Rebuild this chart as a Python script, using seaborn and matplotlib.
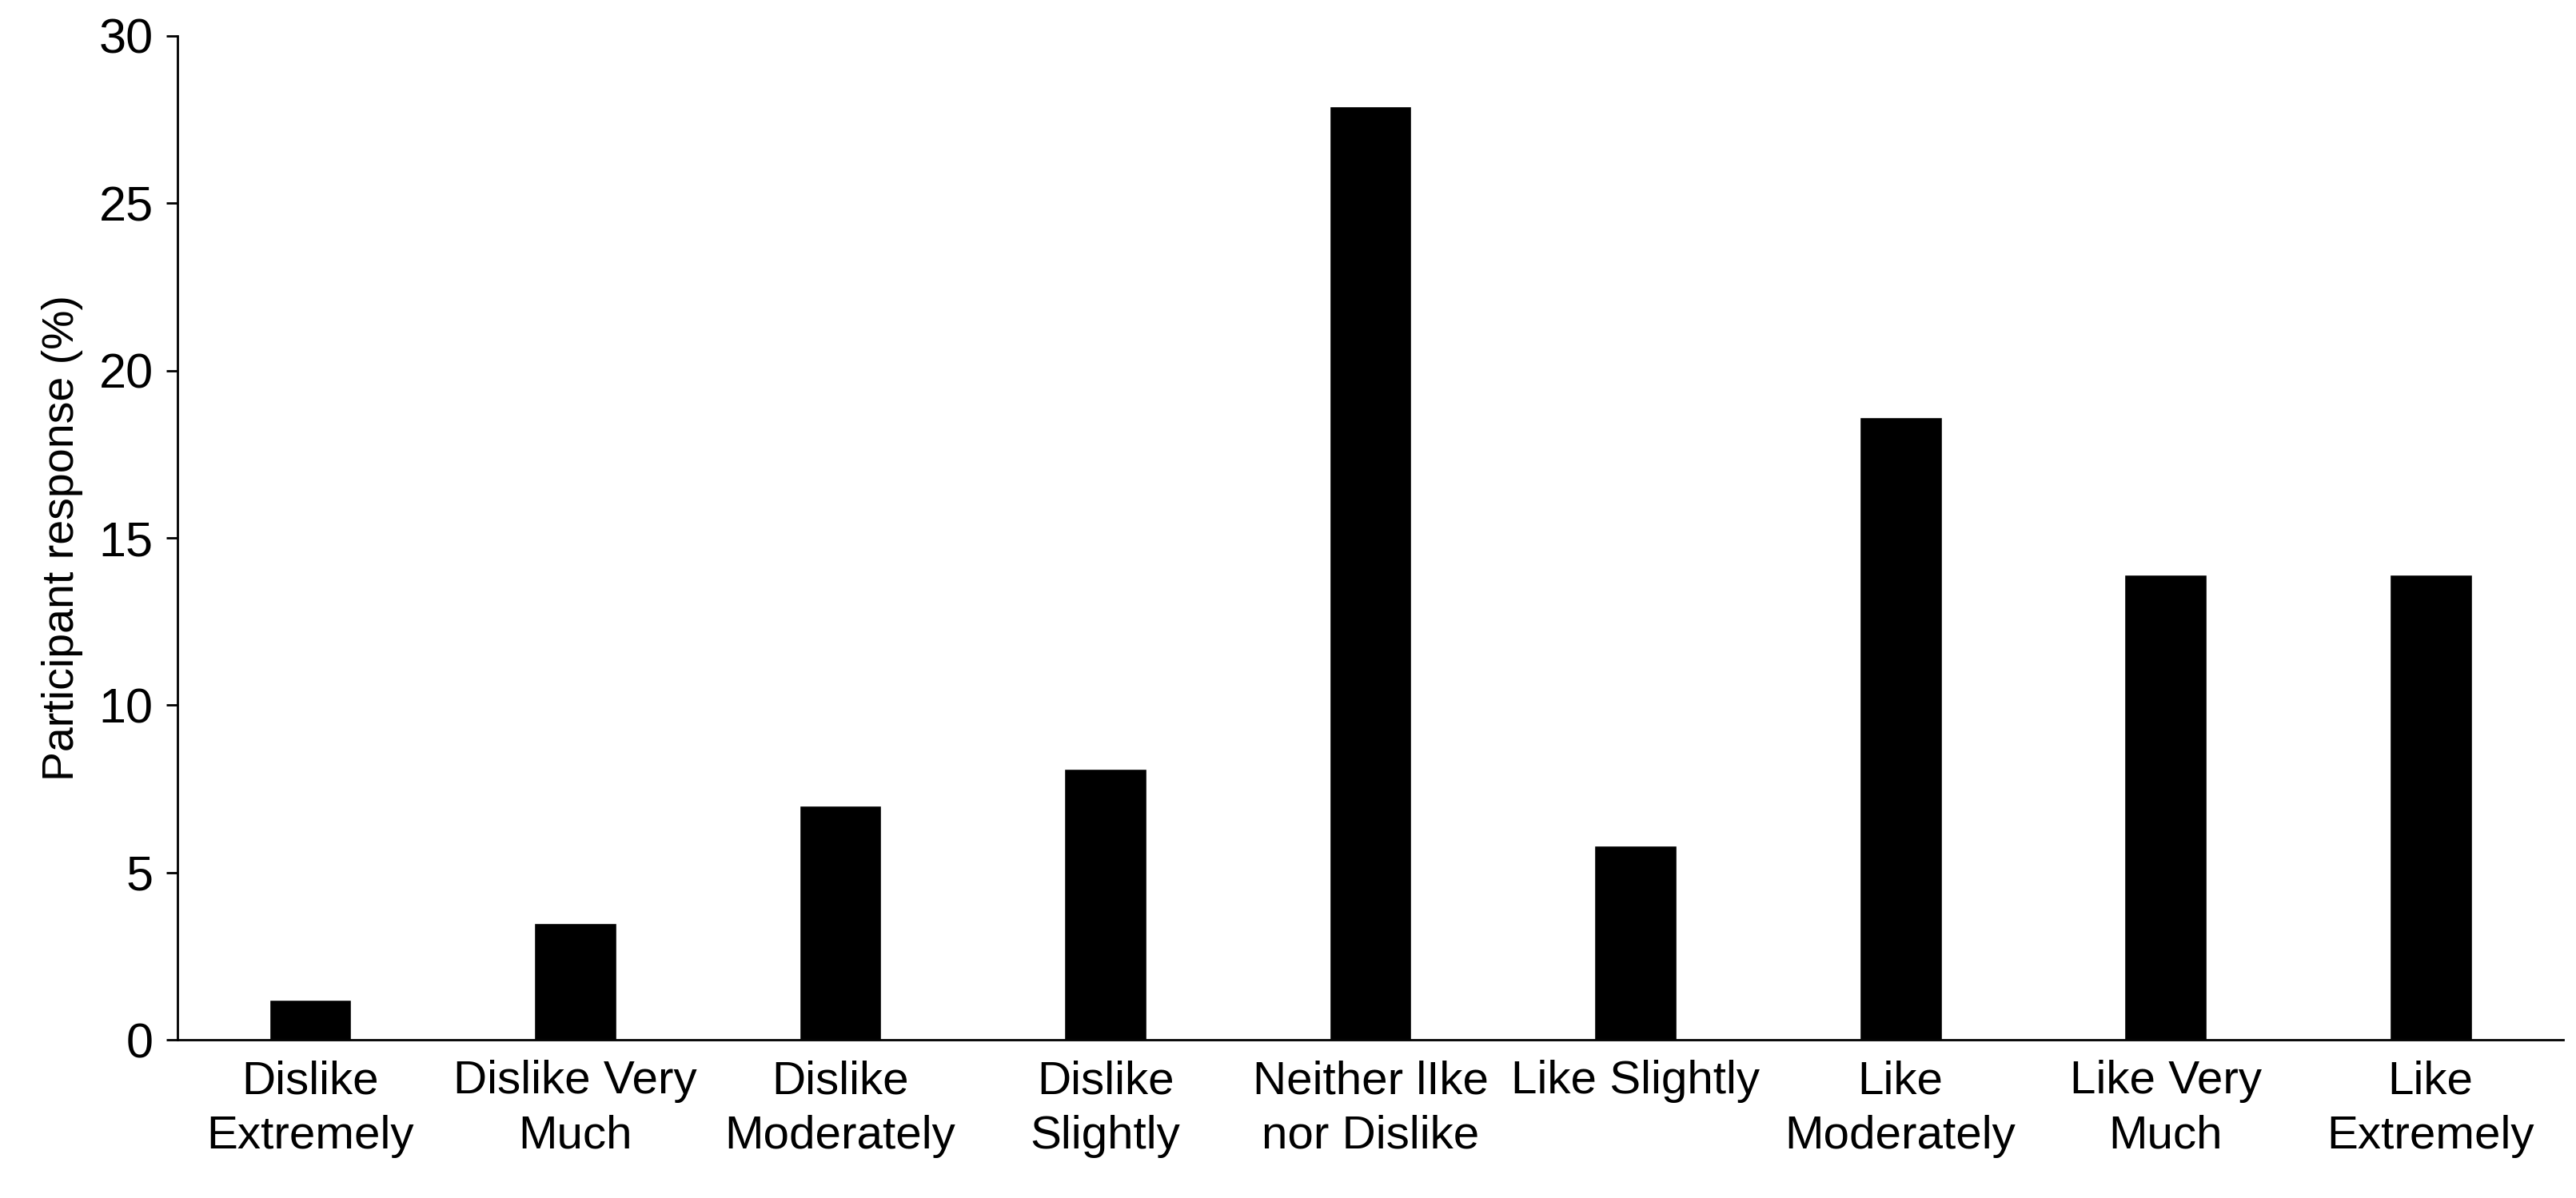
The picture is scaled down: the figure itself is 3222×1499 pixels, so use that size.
import matplotlib
matplotlib.use("Agg")
import matplotlib.pyplot as plt
import seaborn as sns
import pandas as pd

categories = ["Dislike\nExtremely", "Dislike Very\nMuch", "Dislike\nModerately", "Dislike\nSlightly",
              "Neither lIke\nnor Dislike", "Like Slightly", "Like\nModerately", "Like Very\nMuch", "Like\nExtremely"]
values = [1.2, 3.5, 7.0, 8.1, 27.9, 5.8, 18.6, 13.9, 13.9]

sns.set_style("ticks")
plt.rcParams['font.family'] = ['Liberation Sans', 'DejaVu Sans']
plt.rcParams['text.color'] = 'black'
plt.rcParams['xtick.color'] = 'black'
plt.rcParams['ytick.color'] = 'black'
plt.rcParams['axes.labelcolor'] = 'black'
plt.rcParams['axes.edgecolor'] = 'black'

df = pd.DataFrame({"cat": categories, "val": values})
fig = plt.figure(figsize=(32.22, 14.99), dpi=100)
ax = fig.add_axes([0.069, 0.132, 0.926, 0.838])
sns.barplot(data=df, x="cat", y="val", color="black", width=0.31, ax=ax, saturation=1)
ax.set_ylim(0, 30)
ax.set_yticks(range(0, 31, 5))
ax.set_xlim(-0.5, 8.5)
ax.set_xlabel("")
ax.set_ylabel("Participant response (%)", fontsize=40, labelpad=14)
ax.tick_params(axis='y', labelsize=44, length=10, width=2, pad=12)
ax.tick_params(axis='x', labelsize=42, length=0, pad=18)
for lab in ax.get_xticklabels():
    lab.set_linespacing(1.35)
for s in ["top", "right"]:
    ax.spines[s].set_visible(False)
for s in ["left", "bottom"]:
    ax.spines[s].set_linewidth(2)
fig.savefig("out.png", dpi=100)
